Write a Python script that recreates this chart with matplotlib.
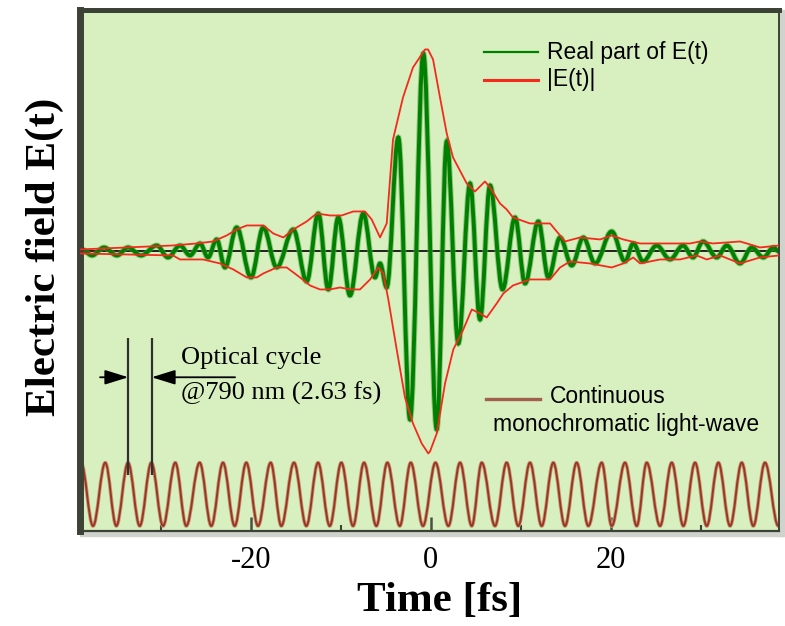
import matplotlib
matplotlib.use('Agg')
import matplotlib.pyplot as plt
from matplotlib.path import Path
from matplotlib.patches import PathPatch, Rectangle

plt.rcParams['axes.unicode_minus'] = False

# Real part of E(t): extrema (time in fs, field in arb. units)
green_t = [-38.74, -37.63, -36.30, -34.86, -33.63, -32.19, -30.44, -29.19, -27.86, -26.74,
           -25.63, -24.74, -23.78, -22.86, -21.56, -19.97, -18.60, -17.11, -15.27, -13.78,
           -12.49, -11.38, -10.27, -8.97, -7.49, -6.19, -5.63, -4.89, -3.60, -2.30,
           -0.82, 0.67, 1.78, 3.07, 4.37, 5.48, 6.59, 7.98, 9.37, 10.48,
           11.96, 13.07, 14.37, 15.67, 16.96, 18.26, 20.11, 21.59, 22.51, 23.59,
           25.11, 26.59, 28.03, 29.14, 30.26, 31.78, 32.89, 34.37, 35.67, 36.96,
           38.07, 38.7]
green_e = [0.01, -0.02, 0.02, -0.02, 0.02, -0.02, 0.03, -0.03, 0.03, -0.02,
           0.04, -0.03, 0.06, -0.08, 0.12, -0.13, 0.12, -0.08, 0.11, -0.15,
           0.19, -0.19, 0.17, -0.22, 0.19, -0.13, -0.06, -0.18, 0.57, -0.84,
           0.99, -0.89, 0.55, -0.46, 0.34, -0.34, 0.33, -0.19, 0.17, -0.16,
           0.15, -0.13, 0.07, -0.07, 0.07, -0.06, 0.10, -0.05, 0.04, -0.05,
           0.03, -0.04, 0.03, -0.03, 0.05, -0.03, 0.03, -0.06, 0.02, -0.03,
           0.02, 0.0]

# |E(t)| envelope, upper and lower branch
env_up_t = [-39.0, -28.63, -26.0, -24.19, -22.67, -21.56, -20.44, -18.60, -17.49, -16.38,
            -15.27, -13.78, -12.67, -11.19, -9.89, -8.60, -7.30, -6.56, -5.63, -4.89,
            -4.19, -3.08, -1.97, -0.63, -0.30, 0.26, 1.03, 1.78, 2.48, 4.0,
            4.92, 6.03, 6.59, 7.70, 8.44, 9.14, 11.03, 13.26, 14.0, 14.92,
            16.59, 18.81, 20.11, 21.4, 23.26, 28.81, 29.92, 31.37, 34.37, 36.59, 38.7]
env_up_e = [0.01, 0.03, 0.04, 0.05, 0.08, 0.11, 0.13, 0.13, 0.09, 0.07,
            0.11, 0.15, 0.19, 0.18, 0.18, 0.20, 0.20, 0.16, 0.07, 0.14,
            0.56, 0.77, 0.92, 1.01, 1.01, 0.96, 0.77, 0.59, 0.47, 0.34,
            0.30, 0.35, 0.32, 0.24, 0.21, 0.17, 0.14, 0.14, 0.10, 0.05,
            0.07, 0.06, 0.08, 0.06, 0.04, 0.04, 0.05, 0.04, 0.05, 0.02, 0.03]
env_lo_t = [-39.0, -28.63, -27.86, -25.30, -23.41, -21.93, -20.44, -19.33, -18.60, -17.11,
            -16.0, -14.52, -13.41, -12.30, -11.19, -10.08, -8.97, -7.86, -6.74, -5.82,
            -5.27, -4.71, -3.78, -2.86, -1.97, -1.0, -0.27, -0.08, 0.67, 1.59,
            2.51, 3.62, 4.56, 5.48, 6.22, 7.33, 8.07, 9.14, 11.03, 13.26,
            14.37, 15.48, 17.70, 20.11, 21.4, 22.51, 23.26, 25.48, 27.7, 29.55,
            30.67, 32.14, 34.37, 36.59, 38.7]
env_lo_e = [-0.01, -0.02, -0.04, -0.04, -0.06, -0.09, -0.13, -0.13, -0.11, -0.08,
            -0.08, -0.13, -0.17, -0.19, -0.19, -0.18, -0.19, -0.19, -0.14, -0.08,
            -0.11, -0.24, -0.49, -0.73, -0.86, -0.96, -1.01, -1.00, -0.91, -0.66,
            -0.49, -0.39, -0.29, -0.31, -0.33, -0.26, -0.21, -0.17, -0.14, -0.14,
            -0.08, -0.05, -0.06, -0.08, -0.06, -0.03, -0.06, -0.04, -0.04, -0.02,
            -0.04, -0.02, -0.06, -0.03, -0.02]

# continuous wave (790 nm): crest and trough times, and their levels
cw_peak_t = [-38.85, -36.16, -33.63, -31.04, -28.38, -25.67, -23.08, -20.49, -17.78, -15.19,
             -12.52, -9.93, -7.41, -4.82, -2.22, 0.53, 3.26, 5.67, 8.44, 11.03,
             13.62, 16.22, 19.0, 21.59, 24.0, 26.78, 29.37, 31.96, 34.56, 37.14]
cw_trough_t = [-37.52, -34.93, -32.33, -29.74, -27.16, -24.38, -21.78, -19.19, -16.6, -13.82,
               -11.22, -8.63, -6.04, -3.44, -0.86, 1.96, 4.56, 7.14, 9.73, 12.33,
               14.92, 17.51, 20.11, 22.89, 25.48, 28.07, 30.67, 33.26, 35.84, 38.62]
cw_top = -1.056
cw_bottom = -1.3725

cycle_marks = [-33.6, -31.0]
tick_pos = [-20, 0, 20]
tick_labels = ['-20', '0', '20']
minor_pos = [-30, -10, 10, 30]


def smooth_path(ts, ys):
    # cubic segments with flat tangents at every extremum
    verts = [(ts[0], ys[0])]
    codes = [Path.MOVETO]
    for i in range(1, len(ts)):
        d = (ts[i] - ts[i - 1]) * 0.3634
        verts += [(ts[i - 1] + d, ys[i - 1]), (ts[i] - d, ys[i]), (ts[i], ys[i])]
        codes += [Path.CURVE4] * 3
    return Path(verts, codes)


fig = plt.figure(figsize=(7.85, 6.26), dpi=100)
# little grey shadow under / right of the frame
fig.add_artist(Rectangle((80 / 785, 1 - 536 / 626), 704 / 785, 5 / 626,
                         transform=fig.transFigure, color='#cfd3cb', zorder=-1))
fig.add_artist(Rectangle((779 / 785, 1 - 536 / 626), 5 / 785, 526 / 626,
                         transform=fig.transFigure, color='#cfd3cb', zorder=-1))

ax = fig.add_axes([0.1013, 0.1518, 0.8911, 0.8323])
ax.set_facecolor('#d8f0c0')
ax.set_xlim(-39.02, 38.7)
ax.set_ylim(-1.3975, 1.2075)

ax.axhline(0, color='black', lw=1.2, zorder=1)

# soft halo + core to imitate the thick green trace
green_path = smooth_path(green_t, green_e)
ax.add_patch(PathPatch(green_path, fill=False, edgecolor='#5aa84a', lw=4.2,
                       alpha=0.55, zorder=2))
ax.add_patch(PathPatch(green_path, fill=False, edgecolor='#008000', lw=2.8, zorder=2))
ax.plot(env_up_t, env_up_e, color='#f52a1c', lw=1.3, zorder=3)
ax.plot(env_lo_t, env_lo_e, color='#f52a1c', lw=1.3, zorder=3)

cw = sorted([(t, cw_top) for t in cw_peak_t] + [(t, cw_bottom) for t in cw_trough_t])
cw_path = smooth_path([c[0] for c in cw], [c[1] for c in cw])
ax.add_patch(PathPatch(cw_path, fill=False, edgecolor='#c49a78', lw=2.6, zorder=2))
ax.add_patch(PathPatch(cw_path, fill=False, edgecolor='#9c3624', lw=1.4, zorder=2))

# optical cycle marker
ax.vlines(cycle_marks, -1.1175, -0.434, color='#303030', lw=1.6, zorder=4)
arrow = dict(arrowstyle='-|>,head_length=0.9,head_width=0.28', color='black',
             lw=1.3, mutation_scale=16, shrinkA=0, shrinkB=0)
ax.annotate('', xy=(cycle_marks[0], -0.629), xytext=(-36.74, -0.629), arrowprops=arrow)
ax.annotate('', xy=(cycle_marks[1], -0.629), xytext=(-21.74, -0.629), arrowprops=arrow)
ax.text(-27.78, -0.5325, 'Optical cycle', family='Liberation Serif', fontsize=19,
        ha='left', va='center')
ax.text(-27.78, -0.7075, '@790 nm (2.63 fs)', family='Liberation Serif', fontsize=19,
        ha='left', va='center')

# hand-made legend
ax.plot([0.5787, 0.6558], [0.9194, 0.9194], transform=ax.transAxes, color='#008000', lw=1.6)
ax.plot([0.5787, 0.6558], [0.8656, 0.8656], transform=ax.transAxes, color='#f52a1c', lw=2.2)
ax.plot([0.5811, 0.6583], [0.2534, 0.2534], transform=ax.transAxes, color='#a0604a', lw=2.4)
legend_font = dict(family='Liberation Sans', fontsize=16.5, transform=ax.transAxes,
                   ha='left', va='center')
ax.text(0.6683, 0.9175, 'Real part of E(t)', **legend_font)
ax.text(0.6683, 0.8656, '|E(t)|', **legend_font)
ax.text(0.6726, 0.2572, 'Continuous', **legend_font)
ax.text(0.5911, 0.2035, 'monochromatic light-wave', **legend_font)

# axes frame and ticks
for side, lw in (('left', 5.0), ('top', 3.6), ('bottom', 1.6), ('right', 1.4)):
    ax.spines[side].set_linewidth(lw)
    ax.spines[side].set_color('#3c4236')
ax.set_yticks([])
ax.set_xticks(tick_pos, labels=tick_labels)
ax.set_xticks(minor_pos, minor=True)
ax.tick_params(axis='x', which='major', direction='in', length=10, width=1.8,
               color='#4a4f45', pad=11, labelsize=22)
ax.tick_params(axis='x', which='minor', direction='in', length=4, width=1.5,
               color='#3c4236')
for lab in ax.get_xticklabels():
    lab.set_family('Liberation Serif')

fig.text(440 / 785, 1 - 601 / 626, 'Time [fs]', family='Liberation Serif',
         fontweight='bold', fontsize=31, ha='center', va='center')
fig.text(45 / 785, 1 - 257 / 626, 'Electric field E(t)', family='Liberation Serif',
         fontweight='bold', fontsize=31, rotation=90, ha='center', va='center')

fig.savefig('out.png', dpi=100)
